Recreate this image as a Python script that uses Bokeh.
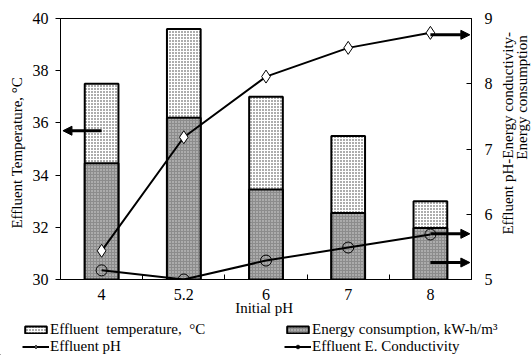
import numpy as np
from bokeh.plotting import figure
from bokeh.layouts import column, row
from bokeh.models import (Range1d, LinearAxis, FixedTicker, Legend, LegendItem,
                          Arrow, NormalHead, ColumnDataSource, Label)
from bokeh.embed import file_html
from bokeh.resources import INLINE

# Initial pH levels (categories along the x axis)
initial_ph = ["4", "5.2", "6", "7", "8"]
# Effluent temperature, degC (left axis)
effluent_temp = [37.5, 39.6, 37.0, 35.5, 33.0]
# Energy consumption, kW-h/m3 (right axis)
energy_consumption = [6.78, 7.48, 6.38, 6.02, 5.79]
# Effluent pH (right axis)
effluent_ph = [5.44, 7.18, 8.11, 8.55, 8.78]
# Effluent electrical conductivity (right axis)
effluent_ec = [5.14, 5.00, 5.29, 5.49, 5.69]

left_ticks = [30, 32, 34, 36, 38, 40]
right_ticks = [5, 6, 7, 8, 9]
right_title = ["Effluent      pH-Energy      conductivity-", "Energy consumption"]

FONT = "Liberation Serif"
W, H_MAIN, H_LEG, W_TITLE = 531, 320, 35, 34
TOP, BOTTOM = 18, 41

# series styles, shared by the chart and the legend strip
temp_style = dict(fill_color="white", line_color="black", line_width=2,
                  hatch_pattern="dot", hatch_color="black", hatch_scale=3,
                  hatch_weight=1, hatch_alpha=0.8)
energy_style = dict(fill_color="#8c8c8c", line_color="black", line_width=2,
                    hatch_pattern="dot", hatch_color="#e6e6e6", hatch_scale=3,
                    hatch_weight=1, hatch_alpha=0.9)
line_style = dict(line_color="black", line_width=2)
ph_marker = dict(marker="diamond", size=13, fill_color="white",
                 line_color="black", line_width=1)
ec_marker = dict(marker="circle", size=11, fill_color=None,
                 line_color="black", line_width=1)


def bare_figure(width, height):
    f = figure(width=width, height=height, output_backend="svg",
               toolbar_location=None, x_range=Range1d(0, 1), y_range=Range1d(0, 1),
               x_axis_location=None, y_axis_location=None,
               min_border_left=0, min_border_right=0,
               min_border_top=0, min_border_bottom=0)
    f.grid.visible = False
    f.outline_line_color = None
    f.background_fill_color = "white"
    f.border_fill_color = "white"
    return f


x = np.arange(len(initial_ph)) + 0.5
src = ColumnDataSource(dict(x=x, temp=effluent_temp, energy=energy_consumption,
                            ph=effluent_ph, ec=effluent_ec))

p = figure(width=W - W_TITLE, height=H_MAIN, output_backend="svg",
           toolbar_location=None,
           x_range=Range1d(0, len(initial_ph)), y_range=Range1d(30, 40),
           min_border_left=60, min_border_right=26, min_border_top=TOP,
           min_border_bottom=BOTTOM)
p.extra_y_ranges = {"right": Range1d(5, 9)}
p.grid.visible = False
p.outline_line_color = "black"
p.outline_line_width = 1
p.background_fill_color = "white"
p.border_fill_color = "white"

# x axis: labels at category centres, small inward ticks at the boundaries
xa = p.xaxis[0]
xa.ticker = FixedTicker(ticks=list(x), minor_ticks=list(np.arange(1, len(initial_ph))))
xa.major_label_overrides = {float(v): lab for v, lab in zip(x, initial_ph)}
xa.major_tick_in = 0
xa.major_tick_out = 0
xa.minor_tick_in = 5
xa.minor_tick_out = 0
xa.axis_label = "Initial  pH"
xa.axis_label_standoff = -3
xa.major_label_standoff = 9

ya = p.yaxis[0]
ya.ticker = FixedTicker(ticks=left_ticks)
ya.major_tick_out = 5
ya.major_tick_in = 0
ya.axis_label = "Effluent  Temperature,  °C"
ya.axis_label_standoff = 5
ya.major_label_standoff = 7

ra = LinearAxis(y_range_name="right", ticker=FixedTicker(ticks=right_ticks))
ra.major_tick_in = 5
ra.major_tick_out = 0
ra.major_label_standoff = 13
p.add_layout(ra, "right")

for ax in (xa, ya, ra):
    ax.axis_line_color = "black"
    ax.major_tick_line_color = "black"
    ax.minor_tick_line_color = "black" if ax is xa else None
    ax.major_label_text_font = FONT
    ax.major_label_text_font_size = "16px"
    ax.major_label_text_color = "black"
    ax.axis_label_text_font = FONT
    ax.axis_label_text_font_size = "15px"
    ax.axis_label_text_font_style = "normal"
    ax.axis_label_text_color = "black"

bw = 0.41
p.vbar(x="x", top="temp", bottom=30, width=bw, source=src, **temp_style)
p.vbar(x="x", top="energy", bottom=5, width=bw, source=src,
       y_range_name="right", **energy_style)
p.line("x", "ph", source=src, y_range_name="right", **line_style)
p.scatter("x", "ph", source=src, y_range_name="right", **ph_marker)
p.line("x", "ec", source=src, y_range_name="right", **line_style)
p.scatter("x", "ec", source=src, y_range_name="right", **ec_marker)

# arrows pointing to the axis each series belongs to
head = dict(size=9, fill_color="black", line_color="black")
p.add_layout(Arrow(x_start=x[0], y_start=35.7, x_end=0.03, y_end=35.7,
                   line_width=3, end=NormalHead(**head)))
for yv in (effluent_ph[-1] - 0.03, effluent_ec[-1] + 0.01, 5.26):
    p.add_layout(Arrow(x_start=x[-1], y_start=yv, x_end=len(initial_ph) - 0.02,
                       y_end=yv, y_range_name="right",
                       line_width=3, end=NormalHead(**head)))

# right-hand axis title, two lines reading bottom to top
t = bare_figure(W_TITLE, H_MAIN)
title_pos = [(10, H_MAIN - 155), (24, H_MAIN - 138)]
for line, (tx, ty) in zip(right_title, title_pos):
    t.add_layout(Label(x=tx, y=ty, x_units="screen", y_units="screen",
                       text=line, angle=np.pi / 2, text_align="center",
                       text_baseline="middle", text_font=FONT,
                       text_font_size="15px", text_color="black"))

# legend strip under the chart; off-range points only feed the legend swatches
q = bare_figure(W, H_LEG)
r_temp = q.vbar(x=[-5], top=[-5], bottom=-6, width=0.1, **temp_style)
r_energy = q.vbar(x=[-5], top=[-5], bottom=-6, width=0.1, **energy_style)
r_ph_l = q.line(x=[-5, -4], y=[-5, -5], **line_style)
r_ph_m = q.scatter(x=[-5], y=[-5], **ph_marker)
r_ec_l = q.line(x=[-5, -4], y=[-5, -5], **line_style)
r_ec_m = q.scatter(x=[-5], y=[-5], **ec_marker)

legend = Legend(items=[
    LegendItem(label="Effluent  temperature,  °C", renderers=[r_temp]),
    LegendItem(label="Effluent pH", renderers=[r_ph_l, r_ph_m]),
    LegendItem(label="Energy consumption, kW-h/m³", renderers=[r_energy]),
    LegendItem(label="Effluent E. Conductivity", renderers=[r_ec_l, r_ec_m]),
], location=(22, 0), ncols=2, orientation="vertical")
legend.label_text_font = FONT
legend.label_text_font_size = "15px"
legend.label_text_color = "black"
legend.glyph_width = 27
legend.glyph_height = 9
legend.label_height = 15
legend.label_standoff = 1
legend.label_width = 234
legend.spacing = 0
legend.padding = 0
legend.margin = 0
legend.border_line_color = None
legend.background_fill_alpha = 0
q.add_layout(legend, "center")

layout = column(row(p, t, spacing=0), q, spacing=0)
open("out.html", "w").write(file_html(layout, INLINE))
